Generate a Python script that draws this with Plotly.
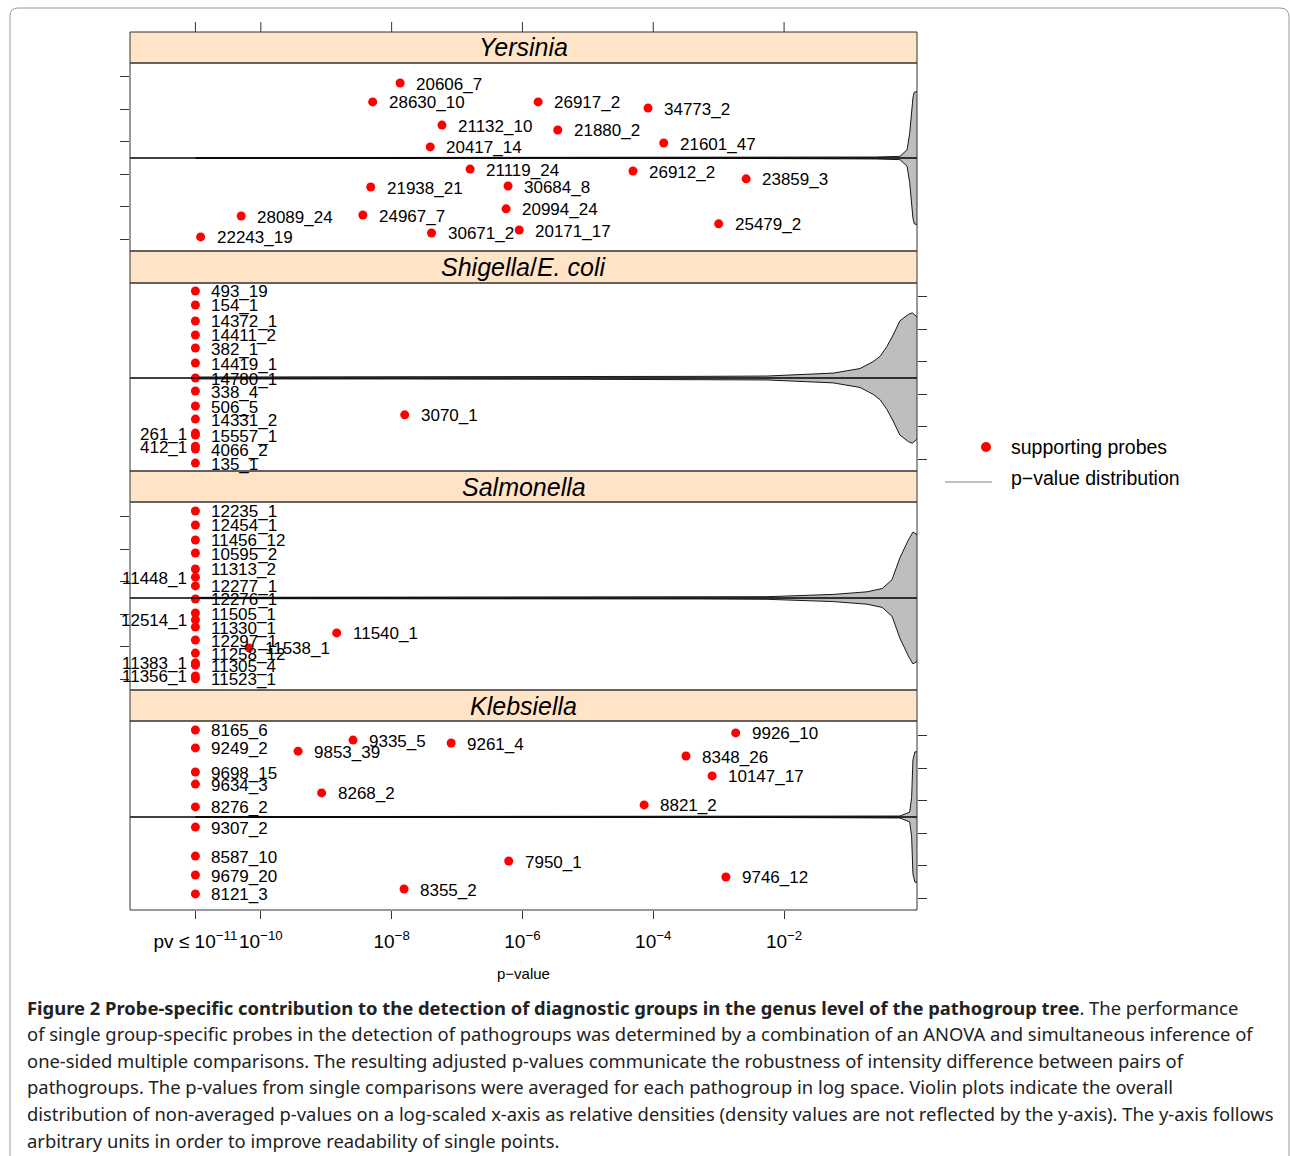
import plotly.graph_objects as go

W, H = 1290, 1156

# ---------------- data ----------------
tick_vals = [-11, -10, -8, -6, -4, -2]
tick_text = ["pv ≤ 10<sup>−11</sup>", "10<sup>−10</sup>", "10<sup>−8</sup>",
             "10<sup>−6</sup>", "10<sup>−4</sup>", "10<sup>−2</sup>"]
y_tick_vals = [-2.5, -1.5, -0.5, 0.5, 1.5, 2.5]

panel_titles = ["<i>Yersinia</i>", "<i>Shigella</i>/<i>E. coli</i>",
                "<i>Salmonella</i>", "<i>Klebsiella</i>"]

# Yersinia
yer_probe = ["20606_7", "28630_10", "21132_10", "20417_14", "21119_24", "21938_21",
             "30684_8", "28089_24", "24967_7", "20994_24", "22243_19", "30671_2",
             "20171_17", "26917_2", "34773_2", "21880_2", "21601_47", "26912_2",
             "23859_3", "25479_2"]
yer_logp = [-7.87, -8.29, -7.23, -7.41, -6.80, -8.32, -6.22, -10.30, -8.44, -6.25,
            -10.92, -7.39, -6.05, -5.76, -4.08, -5.46, -3.84, -4.31, -2.58, -3.00]
yer_y = [2.30, 1.72, 1.01, 0.34, -0.34, -0.89, -0.86, -1.78, -1.75, -1.56,
         -2.42, -2.30, -2.21, 1.72, 1.53, 0.86, 0.46, -0.40, -0.64, -2.02]
yer_side = ["r"] * 20

# Shigella / E. coli
shi_probe = ["493_19", "154_1", "14372_1", "14411_2", "382_1", "14419_1", "14780_1",
             "338_4", "506_5", "14331_2", "261_1", "15557_1", "412_1", "4066_2",
             "135_1", "3070_1"]
shi_logp = [-11.0] * 15 + [-7.80]
shi_y = [2.67, 2.24, 1.75, 1.32, 0.92, 0.46, 0.00, -0.40, -0.86, -1.26,
         -1.69, -1.75, -2.09, -2.18, -2.61, -1.13]
shi_side = ["r"] * 10 + ["l", "r", "l", "r", "r", "r"]

# Salmonella
sal_probe = ["12235_1", "12454_1", "11456_12", "10595_2", "11313_2", "11448_1",
             "12277_1", "12276_1", "11505_1", "12514_1", "11330_1", "12297_1",
             "11258_12", "11383_1", "11305_4", "11356_1", "11523_1", "11538_1",
             "11540_1"]
sal_logp = [-11.0] * 17 + [-10.18, -8.84]
sal_y = [2.67, 2.24, 1.78, 1.38, 0.89, 0.64, 0.37, -0.03, -0.46, -0.67, -0.89,
         -1.29, -1.69, -1.99, -2.06, -2.39, -2.48, -1.53, -1.07]
sal_side = ["r", "r", "r", "r", "r", "l", "r", "r", "r", "l", "r", "r", "r",
            "l", "r", "l", "r", "r", "r"]

# Klebsiella
kle_probe = ["8165_6", "9249_2", "9698_15", "9634_3", "8276_2", "9307_2", "8587_10",
             "9679_20", "8121_3", "9853_39", "9335_5", "9261_4", "8268_2", "8355_2",
             "7950_1", "9926_10", "8348_26", "10147_17", "8821_2", "9746_12"]
kle_logp = [-11.0] * 9 + [-9.43, -8.59, -7.09, -9.07, -7.81, -6.21, -2.74, -3.50,
                          -3.10, -4.14, -2.89]
kle_y = [2.67, 2.12, 1.38, 1.01, 0.31, -0.31, -1.20, -1.78, -2.36, 2.02, 2.36, 2.27,
         0.74, -2.21, -1.35, 2.58, 1.87, 1.26, 0.37, -1.84]
kle_side = ["r"] * 20

# violin outlines: log10 p and relative half-width
yer_vx = [-11.0, -3.0, -1.5, -0.6, -0.23, -0.12, -0.08, -0.05, -0.03, -0.01, 0.05, 0.2]
yer_vw = [0.01, 0.01, 0.015, 0.03, 0.05, 0.25, 0.75, 1.4, 1.85, 2.02, 2.05, 1.6]
shi_vx = [-11.0, -8.0, -5.0, -3.3, -2.26, -1.25, -0.84, -0.64, -0.53, -0.43, -0.34,
          -0.23, -0.18, -0.10, -0.04, 0.03, 0.12]
shi_vw = [0.03, 0.03, 0.04, 0.05, 0.06, 0.15, 0.29, 0.50, 0.67, 0.96, 1.29, 1.75,
          1.83, 1.95, 2.00, 1.88, 1.5]
sal_vx = [-11.0, -3.29, -2.26, -1.25, -0.73, -0.50, -0.35, -0.23, -0.10, -0.03,
          0.03, 0.12]
sal_vw = [0.02, 0.03, 0.04, 0.11, 0.19, 0.29, 0.56, 1.23, 1.78, 2.02, 1.95, 1.5]
kle_vx = [-11.0, -3.0, -1.5, -0.23, -0.08, -0.05, -0.03, 0.0, 0.1, 0.2]
kle_vw = [0.01, 0.01, 0.015, 0.03, 0.15, 0.6, 1.75, 2.0, 2.0, 1.6]

legend_labels = ["supporting probes", "p−value distribution"]

caption_lines = [
    "<b>Figure 2 Probe-specific contribution to the detection of diagnostic groups in the genus level of the pathogroup tree</b>. The performance",
    "of single group-specific probes in the detection of pathogroups was determined by a combination of an ANOVA and simultaneous inference of",
    "one-sided multiple comparisons. The resulting adjusted p-values communicate the robustness of intensity difference between pairs of",
    "pathogroups. The p-values from single comparisons were averaged for each pathogroup in log space. Violin plots indicate the overall",
    "distribution of non-averaged p-values on a log-scaled x-axis as relative densities (density values are not reflected by the y-axis). The y-axis follows",
    "arbitrary units in order to improve readability of single points.",
]

# ---------------- layout geometry (pixels) ----------------
X_LEFT, X_RIGHT = 130, 917
# (strip top, panel top, center line, panel bottom)
panel_px = [(32, 63, 158, 251), (251, 283, 378, 471),
            (471, 502, 598, 690), (690, 721, 817, 910)]
UNIT = 32.6  # pixels per y unit
X_RANGE = [-12.0, 0.032]


def px(x):
    return x / W


def py(y):
    return 1 - y / H


FONT = "Liberation Sans, Arial, Helvetica, sans-serif"
LINE_COL = "#333333"

fig = go.Figure()
shapes = []
annotations = []

datasets = [
    (yer_probe, yer_logp, yer_y, yer_side, yer_vx, yer_vw),
    (shi_probe, shi_logp, shi_y, shi_side, shi_vx, shi_vw),
    (sal_probe, sal_logp, sal_y, sal_side, sal_vx, sal_vw),
    (kle_probe, kle_logp, kle_y, kle_side, kle_vx, kle_vw),
]

for i, (probe, logp, yv, side, vx, vw) in enumerate(datasets):
    ya = "y" if i == 0 else f"y{i + 1}"
    yax = "yaxis" if i == 0 else f"yaxis{i + 1}"
    s_top, p_top, c_line, p_bot = panel_px[i]

    fig.update_layout(**{yax: dict(
        domain=[py(p_bot), py(p_top)],
        range=[-(p_bot - c_line) / UNIT, (c_line - p_top) / UNIT],
        anchor="x", side="left" if i % 2 == 0 else "right",
        showgrid=False, zeroline=False, showline=False, showticklabels=False,
        ticks="outside", ticklen=9, tickwidth=1, tickcolor=LINE_COL,
        tickvals=y_tick_vals, fixedrange=True,
    )})

    # violin
    fig.add_trace(go.Scatter(
        x=vx + vx[::-1], y=vw + [-w for w in vw[::-1]],
        mode="lines", fill="toself", fillcolor="#BEBEBE",
        line=dict(color="black", width=0.9), yaxis=ya, xaxis="x",
        showlegend=False, hoverinfo="skip",
    ))

    # center reference line
    shapes.append(dict(type="line", xref="x domain", x0=0, x1=1, yref=ya, y0=0, y1=0,
                       line=dict(color="black", width=1.6), layer="above"))

    # points
    fig.add_trace(go.Scatter(
        x=logp, y=yv, mode="markers", yaxis=ya, xaxis="x",
        marker=dict(color="#FF0000", size=9, line=dict(width=0)),
        text=probe, showlegend=False, cliponaxis=False,
    ))

    for name, xv, yy, sd in zip(probe, logp, yv, side):
        annotations.append(dict(
            x=xv, y=yy, xref="x", yref=ya, text=name, showarrow=False,
            xanchor="left" if sd == "r" else "right", yanchor="middle",
            xshift=14 if sd == "r" else -6, yshift=-1,
            font=dict(family=FONT, size=17, color="black"),
        ))

    # strip
    shapes.append(dict(type="rect", xref="paper", yref="paper",
                       x0=px(X_LEFT), x1=px(X_RIGHT), y0=py(p_top), y1=py(s_top),
                       fillcolor="#FFE4C8", line=dict(color=LINE_COL, width=1),
                       layer="below"))
    annotations.append(dict(
        x=px((X_LEFT + X_RIGHT) / 2), y=py((s_top + p_top) / 2), xref="paper",
        yref="paper", text=panel_titles[i], showarrow=False,
        xanchor="center", yanchor="middle",
        font=dict(family=FONT, size=25, color="black"),
    ))
    # panel frame
    shapes.append(dict(type="rect", xref="paper", yref="paper",
                       x0=px(X_LEFT), x1=px(X_RIGHT), y0=py(p_bot), y1=py(p_top),
                       line=dict(color=LINE_COL, width=1), layer="above"))

# top x ticks
for tv in tick_vals:
    shapes.append(dict(type="line", xref="x", yref="paper", x0=tv, x1=tv,
                       y0=py(32), y1=py(22), line=dict(color=LINE_COL, width=1)))

fig.update_layout(
    xaxis=dict(
        domain=[px(X_LEFT), px(X_RIGHT)], range=X_RANGE, anchor="y4",
        tickvals=tick_vals, ticktext=tick_text, ticks="outside", ticklen=8,
        tickwidth=1, tickcolor=LINE_COL, showgrid=False, zeroline=False,
        showline=False, tickangle=0,
        tickfont=dict(family=FONT, size=19, color="black"),
        ticklabelstandoff=6, fixedrange=True,
    )
)

# axis title
annotations.append(dict(x=px(523), y=py(973), xref="paper", yref="paper",
                        text="p−value", showarrow=False, xanchor="center",
                        yanchor="middle",
                        font=dict(family=FONT, size=15, color="black")))

# legend
shapes.append(dict(type="circle", xref="paper", yref="paper",
                   x0=px(981), x1=px(991), y0=py(452), y1=py(442),
                   fillcolor="#FF0000", line=dict(width=0)))
shapes.append(dict(type="line", xref="paper", yref="paper",
                   x0=px(945), x1=px(992), y0=py(482), y1=py(482),
                   line=dict(color="#AAAAAA", width=1.5)))
for lbl, yy in zip(legend_labels, [447, 478]):
    annotations.append(dict(x=px(1009), y=py(yy), xref="paper", yref="paper",
                            text=lbl, showarrow=False, xanchor="left",
                            yanchor="middle",
                            font=dict(family=FONT, size=19.5, color="black")))

# caption
for k, line in enumerate(caption_lines):
    annotations.append(dict(x=px(25), y=py(1007 + k * 26.6), xref="paper",
                            yref="paper", text=line, showarrow=False,
                            xanchor="left", yanchor="middle",
                            font=dict(family="Noto Sans, Open Sans, sans-serif",
                                      size=18.4, color="#222222")))

# outer figure frame
shapes.append(dict(
    type="path", xref="paper", yref="paper",
    path=(f"M {px(10)},{py(1160)} L {px(10)},{py(16)} "
          f"Q {px(10)},{py(8)} {px(18)},{py(8)} L {px(1280)},{py(8)} "
          f"Q {px(1289)},{py(8)} {px(1289)},{py(17)} L {px(1289)},{py(1160)}"),
    line=dict(color="#9A9A9A", width=1),
))

fig.update_layout(
    width=W, height=H, autosize=False,
    margin=dict(l=0, r=0, t=0, b=0),
    paper_bgcolor="white", plot_bgcolor="white",
    shapes=shapes, annotations=annotations, showlegend=False,
)

fig.write_html("out.html")
